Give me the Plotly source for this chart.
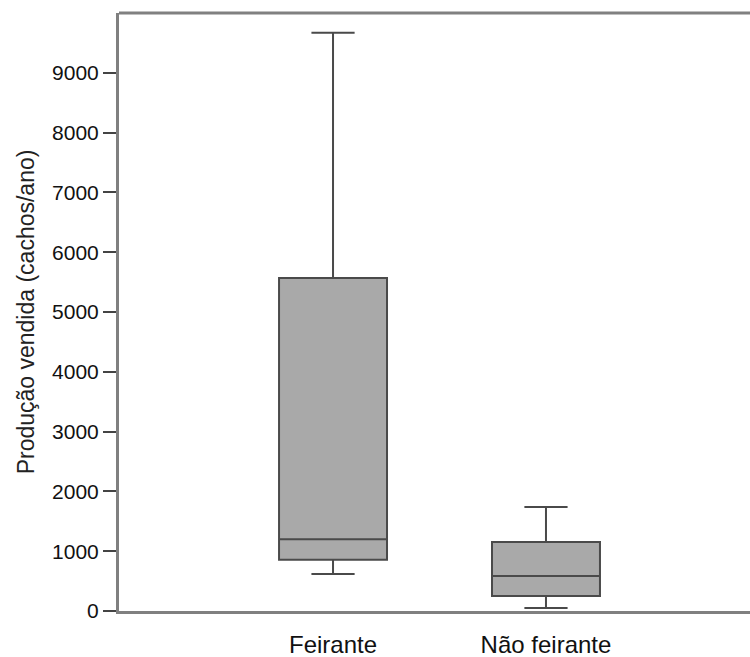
import plotly.graph_objects as go

categories = ["Feirante", "Não feirante"]
lower_whisker = [620, 50]
q1_values = [855, 250]
medians = [1200, 585]
q3_values = [5570, 1155]
upper_whisker = [9670, 1740]
y_ticks = [0, 1000, 2000, 3000, 4000, 5000, 6000, 7000, 8000, 9000]

fig = go.Figure()
fig.add_trace(go.Box(
    x=categories,
    q1=q1_values, median=medians, q3=q3_values,
    lowerfence=lower_whisker, upperfence=upper_whisker,
    fillcolor="#a9a9a9",
    line=dict(color="#4a4a4a", width=2),
    whiskerwidth=0.4,
    width=0.507,
    boxpoints=False,
    hoverinfo="skip",
    showlegend=False,
))

fig.add_shape(type="line", xref="paper", yref="paper", x0=0, x1=1, y0=1, y1=1,
              line=dict(color="#808080", width=3))

fig.update_layout(
    width=750, height=657,
    margin=dict(l=119, r=0, t=13, b=46),
    plot_bgcolor="white", paper_bgcolor="white",
    font=dict(family="Liberation Sans, Arial, sans-serif", color="#222"),
    xaxis=dict(
        type="category",
        range=[-1.005, 1.958],
        automargin=False,
        showline=True, linecolor="#808080", linewidth=3,
        ticks="", showgrid=False, zeroline=False,
        tickfont=dict(size=24, color="#111"),
        ticklabelstandoff=10,
    ),
    yaxis=dict(
        range=[0, 10000],
        automargin=False,
        tickvals=y_ticks,
        ticktext=[str(v) for v in y_ticks],
        showline=True, linecolor="#808080", linewidth=3,
        ticks="outside", ticklen=13, tickwidth=1.5, tickcolor="#444",
        showgrid=False, zeroline=False,
        tickfont=dict(size=21, color="#111"),
        title=dict(text="Produção vendida (cachos/ano)", font=dict(size=23, color="#222"), standoff=12),
    ),
)

fig.write_html("out.html", config={"displayModeBar": False},
               post_script="document.body.style.margin='0';document.body.style.overflow='hidden';")
